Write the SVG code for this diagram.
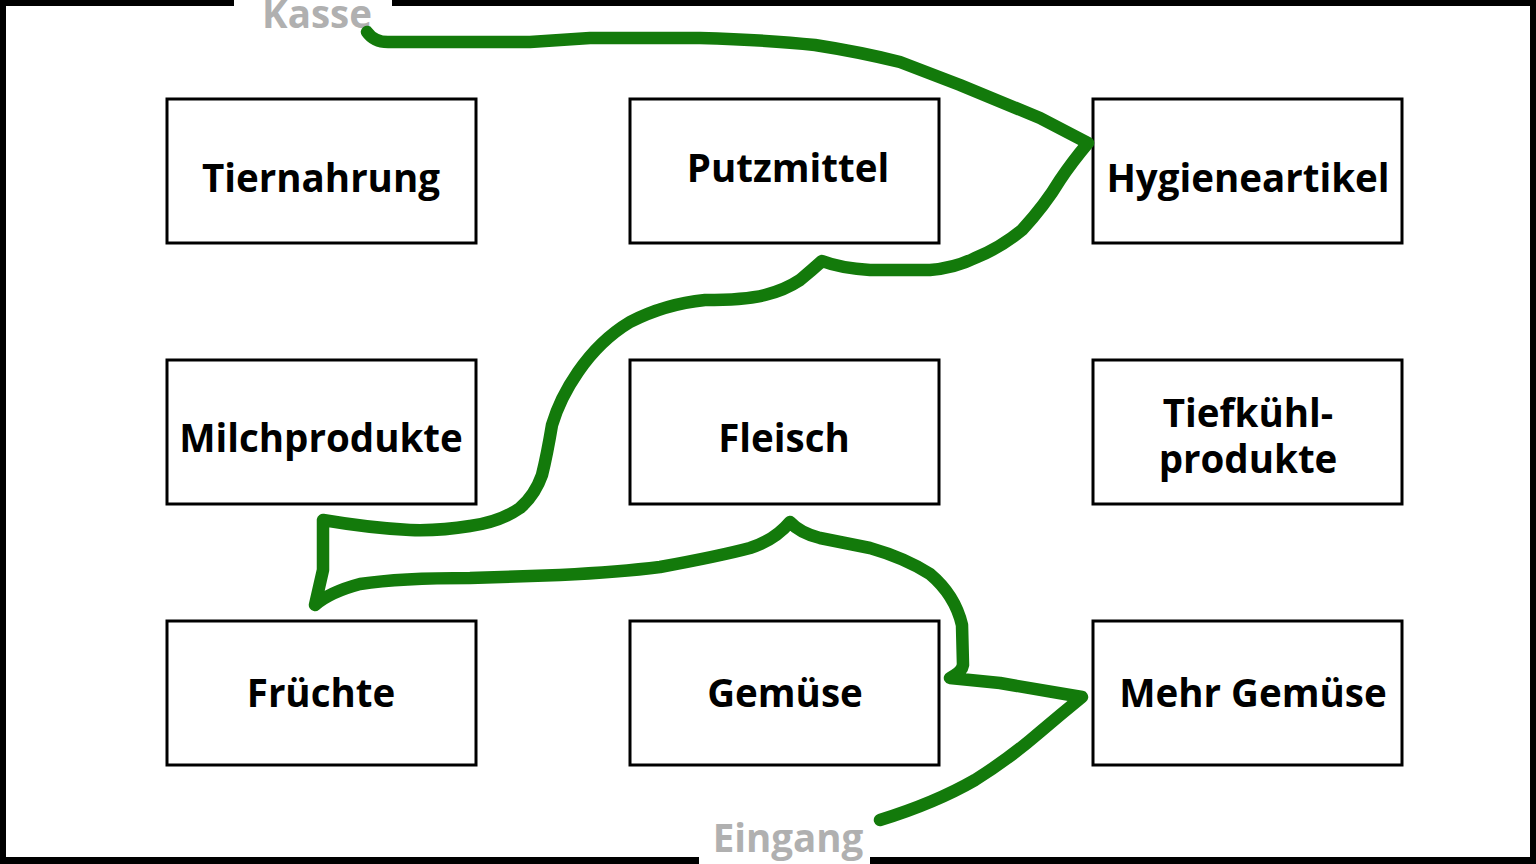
<svg xmlns="http://www.w3.org/2000/svg" width="1536" height="864" viewBox="0 0 1536 864">
<style>
.box{fill:#fff;stroke:#000;stroke-width:3}
.lbl{font-family:"Open Sans","Noto Sans",sans-serif;font-weight:bold;font-size:38.5px;text-anchor:middle;fill:#000}
.door{font-family:"Open Sans","Noto Sans",sans-serif;font-weight:bold;font-size:38.5px;text-anchor:middle;fill:#b0b0b0}
.wall{fill:#000}
.route{fill:none;stroke:#137a0b;stroke-width:12.5;stroke-linecap:round;stroke-linejoin:round}
</style>
<rect width="1536" height="864" fill="#fff"/>
<g id="walls">
<rect class="wall" x="0" y="0" width="6" height="864"/>
<rect class="wall" x="1530" y="0" width="6" height="864"/>
<rect class="wall" x="0" y="0" width="234" height="6"/>
<rect class="wall" x="392" y="0" width="1144" height="6"/>
<rect class="wall" x="0" y="857" width="699" height="7"/>
<rect class="wall" x="870" y="857" width="666" height="7"/>
</g>
<g id="kasse"><text class="door" x="317" y="28">Kasse</text></g>
<g id="eingang"><text class="door" x="788" y="852">Eingang</text></g>
<g id="tiernahrung"><rect class="box" x="167" y="99" width="309" height="144"/><text class="lbl" x="321" y="192">Tiernahrung</text></g>
<g id="putzmittel"><rect class="box" x="630" y="99" width="309" height="144"/><text class="lbl" x="788" y="182">Putzmittel</text></g>
<g id="hygieneartikel"><rect class="box" x="1093" y="99" width="309" height="144"/><text class="lbl" x="1248" y="192">Hygieneartikel</text></g>
<g id="milchprodukte"><rect class="box" x="167" y="360" width="309" height="144"/><text class="lbl" x="321" y="452">Milchprodukte</text></g>
<g id="fleisch"><rect class="box" x="630" y="360" width="309" height="144"/><text class="lbl" x="784" y="452">Fleisch</text></g>
<g id="tiefkuehl"><rect class="box" x="1093" y="360" width="309" height="144"/><text class="lbl" x="1248" y="427">Tiefkühl-</text><text class="lbl" x="1248" y="473">produkte</text></g>
<g id="fruechte"><rect class="box" x="167" y="621" width="309" height="144"/><text class="lbl" x="321" y="707">Früchte</text></g>
<g id="gemuese"><rect class="box" x="630" y="621" width="309" height="144"/><text class="lbl" x="785" y="707">Gemüse</text></g>
<g id="mehrgemuese"><rect class="box" x="1093" y="621" width="309" height="144"/><text class="lbl" x="1253" y="707">Mehr Gemüse</text></g>
<g id="connectors">
<path class="route" d="M367,32 Q374,42 388,42 L530,42 Q560,40 590,38 L700,38 Q770,40 815,45 Q860,52 900,62 L960,85 L1040,118 L1088,143 Q1072,162 1060,180 Q1045,205 1022,230 Q1000,248 975,258 Q955,268 930,270 L870,270 Q840,268 822,261 Q812,270 800,280 Q785,290 765,295 Q745,300 705,300 Q665,304 630,322 Q600,340 578,372 Q560,398 552,425 Q547,455 542,475 Q535,495 520,508 Q500,522 470,526 Q440,531 410,530 Q370,528 323,520 L323,570 L315,605 Q330,592 360,584 Q400,578 470,578 L560,575 Q620,572 660,567 Q720,556 750,548 Q775,540 790,522 Q800,533 820,538 L870,548 Q905,558 930,574 Q955,595 962,625 L963,665 Q962,672 950,678 L1000,683 Q1040,690 1082,697 Q1060,715 1040,732 Q1010,758 975,780 Q935,803 880,820"/>
</g>
</svg>
